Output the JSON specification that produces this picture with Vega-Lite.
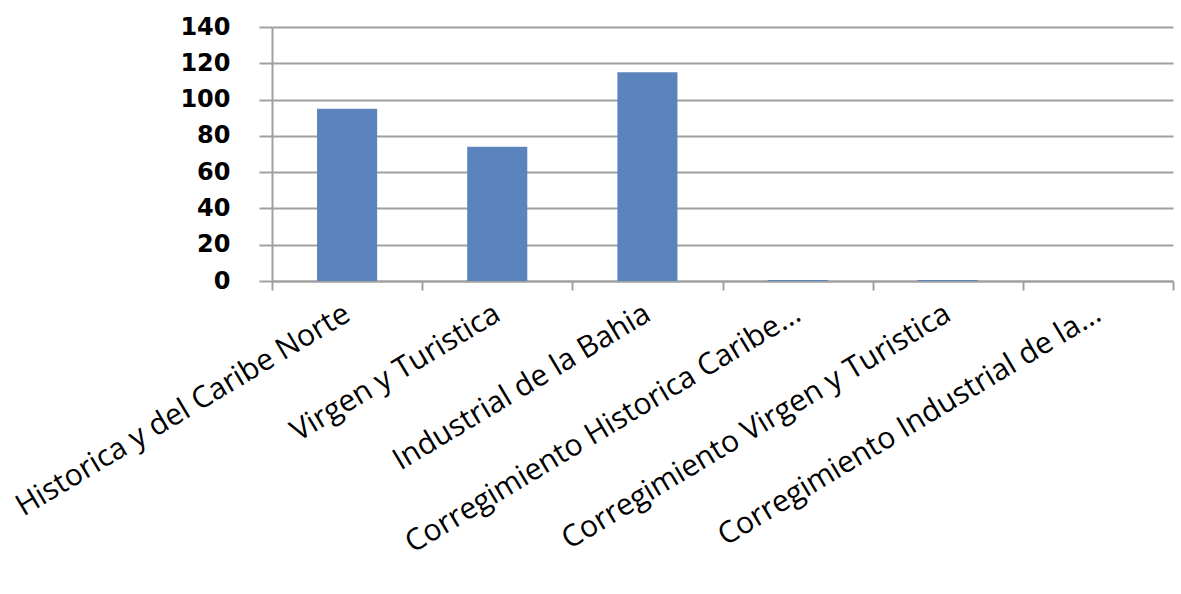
{
  "$schema": "https://vega.github.io/schema/vega-lite/v6.json",
  "autosize": "none",
  "width": 901,
  "height": 254,
  "padding": {"left": 272, "top": 27, "right": 8, "bottom": 313},
  "background": "white",
  "data": {
    "values": [
      {"zona": "Historica y del Caribe Norte", "valor": 95},
      {"zona": "Virgen y Turistica", "valor": 74},
      {"zona": "Industrial de la Bahia", "valor": 115},
      {"zona": "Corregimiento Historica Caribe...", "valor": 0.6},
      {"zona": "Corregimiento Virgen y Turistica", "valor": 0.6},
      {"zona": "Corregimiento Industrial de la...", "valor": 0}
    ]
  },
  "mark": {"type": "bar", "color": "#5B84BC", "width": {"band": 0.4}},
  "encoding": {
    "x": {
      "field": "zona",
      "type": "nominal",
      "sort": null,
      "scale": {"paddingInner": 0, "paddingOuter": 0},
      "axis": {
        "title": null,
        "labelAngle": -31,
        "labelAlign": "right",
        "labelBaseline": "middle",
        "labelFont": "Open Sans",
        "labelFontSize": 30,
        "labelColor": "black",
        "labelPadding": 21,
        "labelLimit": 0,
        "tickBand": "extent",
        "ticks": true,
        "tickSize": 9,
        "tickColor": "#a0a0a0",
        "tickWidth": 2,
        "domainColor": "#a0a0a0",
        "domainWidth": 2,
        "grid": false
      }
    },
    "y": {
      "field": "valor",
      "type": "quantitative",
      "scale": {"domain": [0, 140], "nice": false},
      "axis": {
        "title": null,
        "values": [0, 20, 40, 60, 80, 100, 120, 140],
        "labelFont": "DejaVu Sans",
        "labelFontWeight": "bold",
        "labelFontSize": 24,
        "labelColor": "black",
        "labelPadding": 29,
        "tickSize": 13,
        "tickColor": "#a0a0a0",
        "tickWidth": 2,
        "domainColor": "#a0a0a0",
        "domainWidth": 2,
        "grid": true,
        "gridColor": "#a0a0a0",
        "gridWidth": 2,
        "gridOpacity": 1
      }
    }
  },
  "config": {"view": {"stroke": null}}
}
